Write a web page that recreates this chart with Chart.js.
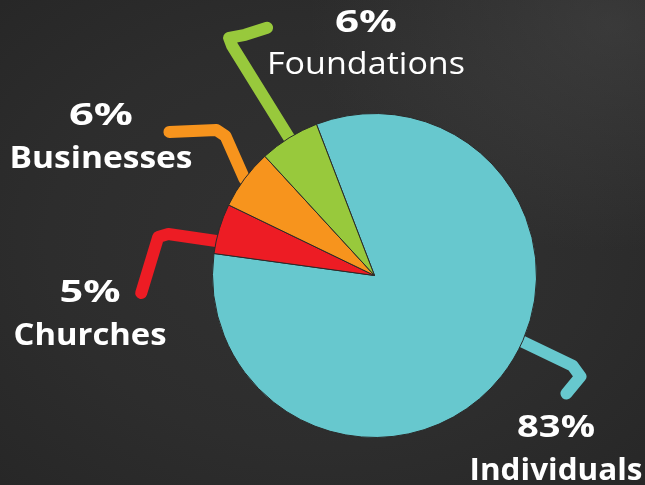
<!DOCTYPE html>
<html>
<head>
<meta charset="utf-8">
<script src="https://cdn.jsdelivr.net/npm/chart.js@4"></script>
<style>
    html, body { margin: 0; padding: 0; }
    body {
        width: 645px; height: 485px; overflow: hidden;
        background:
            radial-gradient(ellipse at 95% 5%, rgba(90, 90, 90, 0.35) 0%, rgba(90, 90, 90, 0) 35%),
            radial-gradient(ellipse at 50% 50%, #323232 0%, #2d2d2d 60%, #272727 100%);
    }
    #wrap { position: relative; width: 645px; height: 485px; }
</style>
</head>
<body>
<div id="wrap"><canvas id="pie_chart" width="645" height="485"></canvas></div>
<script>
const categories = ["Individuals", "Churches", "Businesses", "Foundations"]
const shares = [83, 5, 6, 6]
const pct_labels = ["83%", "5%", "6%", "6%"]
const slice_colours = ["#67C8CE", "#ED1C24", "#F7941D", "#98C93C"]

// Hand-drawn leader lines: where on the slice edge they start (fraction of the
// slice sweep) and the bends relative to that start point
const leaders = [
    { frac: 0.452, bends: [[50, 24], [58, 35], [44, 52]] },
    { frac: 0.25, bends: [[-48, -7], [-58, -4], [-75, 52]] },
    { frac: 0.5, bends: [[-19, -43], [-28, -49], [-75, -47]] },
    { frac: 0.5, bends: [[-57, -92], [-60, -100], [-44, -103], [-22, -110]] },
]

// Text placement: centre x, baselines, and the widths the words take up
const text_layout = [
    { x: 556, pct_y: 437, name_y: 480, pct_w: 78, name_w: 173, name_weight: "bold" },
    { x: 90, pct_y: 302, name_y: 345, pct_w: 61, name_w: 153, name_weight: "bold" },
    { x: 101, pct_y: 125, name_y: 168, pct_w: 64, name_w: 183, name_weight: "bold" },
    { x: 366, pct_y: 32, name_y: 74, pct_w: 62, name_w: 198, name_weight: "500" },
]

const font_family = "'Open Sans', 'DejaVu Sans', sans-serif"

function fill_text_width(ctx, text, x, y, width)
{
    const measured = ctx.measureText(text).width
    ctx.save()
    ctx.translate(x, y)
    ctx.scale(width / measured, 1)
    ctx.fillText(text, 0, 0)
    ctx.restore()
}

const leader_plugin = {
    id: "leader_lines",
    beforeDatasetsDraw(chart)
    {
        const ctx = chart.ctx
        const arcs = chart.getDatasetMeta(0).data
        ctx.save()
        ctx.lineWidth = 12
        ctx.lineCap = "round"
        ctx.lineJoin = "round"
        arcs.forEach((arc, i) => {
            const { x, y, startAngle, endAngle, outerRadius } = arc.getProps(["x", "y", "startAngle", "endAngle", "outerRadius"], true)
            const a = startAngle + leaders[i].frac * (endAngle - startAngle)
            const sx = x + outerRadius * Math.cos(a)
            const sy = y + outerRadius * Math.sin(a)
            ctx.strokeStyle = slice_colours[i]
            ctx.beginPath()
            ctx.moveTo(x + (outerRadius - 10) * Math.cos(a), y + (outerRadius - 10) * Math.sin(a))
            ctx.lineTo(sx, sy)
            leaders[i].bends.forEach(([dx, dy]) => ctx.lineTo(sx + dx, sy + dy))
            ctx.stroke()
        })
        ctx.restore()
    },
    afterDatasetsDraw(chart)
    {
        const ctx = chart.ctx
        ctx.save()
        ctx.fillStyle = "#ffffff"
        ctx.textAlign = "center"
        ctx.textBaseline = "alphabetic"
        categories.forEach((name, i) => {
            const t = text_layout[i]
            ctx.font = "bold 30px " + font_family
            fill_text_width(ctx, pct_labels[i], t.x, t.pct_y, t.pct_w)
            ctx.font = t.name_weight + " 31px " + font_family
            fill_text_width(ctx, name, t.x, t.name_y, t.name_w)
        })
        ctx.restore()
    }
}

const context_2d = document.getElementById("pie_chart").getContext("2d")
new Chart(context_2d, {
    type: "pie",
    data: {
        labels: categories,
        datasets: [
            {
                data: shares,
                backgroundColor: slice_colours,
                borderColor: "#2a2a2a",
                borderWidth: 1,
            }
        ]
    },
    options: {
        responsive: false,
        animation: false,
        rotation: -21,
        layout: {
            padding: { left: 212, top: 113, right: 108, bottom: 47 }
        },
        plugins: {
            legend: { display: false },
            tooltip: { enabled: false },
        }
    },
    plugins: [leader_plugin]
})
</script>
</body>
</html>
